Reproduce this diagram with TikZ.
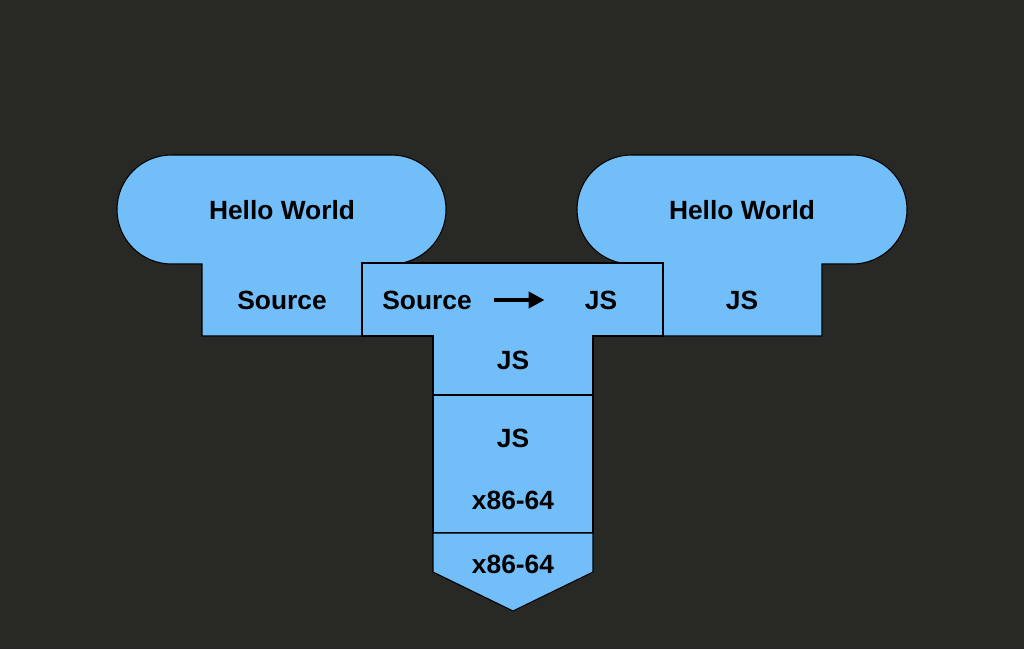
\documentclass[tikz,border=0pt]{standalone}
\usepackage{fontspec}
\setmainfont{Liberation Sans}
\usetikzlibrary{arrows.meta}
\definecolor{bgdark}{RGB}{40,40,37}
\definecolor{tblue}{RGB}{114,190,248}

\begin{document}
\begin{tikzpicture}[x=0.02cm, y=0.02cm,
  block/.style={fill=tblue, draw=black, line width=0.6pt},
  lbl/.style={font=\bfseries\fontsize{15}{18}\selectfont, text=black, inner sep=0pt}]
\fill[bgdark] (0,0) rectangle (1024,-649);
\useasboundingbox (0,0) rectangle (1024,-649);

% program written in Source
\draw[block] (202,-336) -- (202,-264) -- (171.5,-264) arc[start angle=270, end angle=90, radius=54.5]
  -- (391.5,-155) arc[start angle=90, end angle=-90, radius=54.5] -- (362,-264) -- (362,-336) -- cycle;
% program written in JS
\draw[block] (663,-336) -- (663,-264) -- (631.5,-264) arc[start angle=270, end angle=90, radius=54.5]
  -- (852.5,-155) arc[start angle=90, end angle=-90, radius=54.5] -- (822,-264) -- (822,-336) -- cycle;
% compiler
\draw[block] (362,-263) -- (663,-263) -- (663,-336) -- (593,-336) -- (593,-395) -- (433,-395) -- (433,-336) -- (362,-336) -- cycle;
% interpreter
\draw[block] (433,-395) rectangle (593,-533);
% machine
\draw[block] (433,-533) -- (593,-533) -- (593,-572) -- (513,-611) -- (433,-572) -- cycle;

\node (hello1) [lbl] at (282,-210) {Hello World};
\node (src1) [lbl] at (282,-300) {Source};
\node (csrc) [lbl] at (427,-300) {Source};
\node (cjs) [lbl] at (601,-300) {JS};
\node (cimpl) [lbl] at (513,-360) {JS};
\node (hello2) [lbl] at (742,-210) {Hello World};
\node (js2) [lbl] at (742,-300) {JS};
\node (ijs) [lbl] at (513,-438) {JS};
\node (ix86) [lbl, below of=ijs, node distance=1.24cm] {x86-64};
\node (mx86) [lbl] at (513,-564) {x86-64};

\draw[line width=2.5pt, -{Triangle[length=0.32cm, width=0.32cm]}] ([xshift=0.44cm]csrc.east) -- ([xshift=-0.8cm]cjs.west);

\end{tikzpicture}
\end{document}
